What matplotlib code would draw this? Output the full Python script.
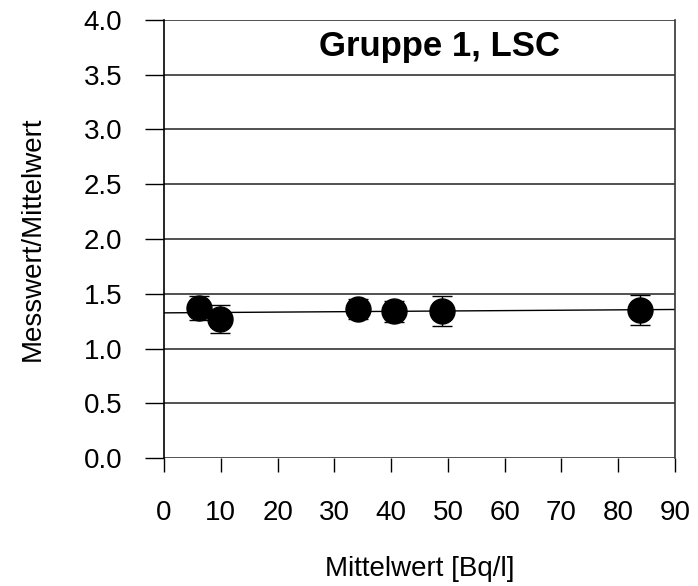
import numpy as np
import matplotlib
matplotlib.use("Agg")
from matplotlib import pyplot as plt

plt.rcParams['font.family'] = ['Liberation Sans', 'DejaVu Sans']

# Messwerte (Mittelwert in Bq/l, Verhaeltnis Messwert/Mittelwert, Unsicherheit)
mittelwert = [6.2, 9.9, 34.1, 40.5, 48.9, 83.8]
verhaeltnis = [1.37, 1.27, 1.36, 1.34, 1.34, 1.35]
fehler = [0.11, 0.13, 0.095, 0.095, 0.135, 0.135]

x_ticks = [0, 10, 20, 30, 40, 50, 60, 70, 80, 90]
y_ticks = [0.0, 0.5, 1.0, 1.5, 2.0, 2.5, 3.0, 3.5, 4.0]

fig = plt.figure(figsize=(6.98, 5.86), dpi=100)
ax = fig.add_axes([0.235, 0.2184, 0.732, 0.7475])

# horizontale Gitterlinien
for y in y_ticks:
    ax.axhline(y, color='#333333', lw=1.2, zorder=1)

# Ausgleichsgerade durch die Punkte
k, d = np.polyfit(mittelwert, verhaeltnis, 1)
xs = np.array([0, 90])
ax.plot(xs, k * xs + d, color='black', lw=1.0, zorder=2)

ax.errorbar(mittelwert, verhaeltnis, yerr=fehler, fmt='o', color='black',
            ms=18, ecolor='black', elinewidth=1.0, capsize=7, capthick=1.0,
            zorder=3)

ax.set_xlim(0, 90)
ax.set_ylim(0, 4)
ax.set_xticks(x_ticks)
ax.set_yticks(y_ticks)
ax.set_yticklabels(["%.1f" % v for v in y_ticks])

for s in ['top', 'bottom']:
    ax.spines[s].set_visible(False)
ax.spines['left'].set_linewidth(1.2)
ax.spines['right'].set_linewidth(1.2)
ax.spines['right'].set_color('#333333')

ax.tick_params(axis='y', direction='out', length=14, width=1.0, pad=16,
               labelsize=20)
ax.tick_params(axis='x', direction='out', length=10, width=1.0, pad=20,
               labelsize=20)

ax.set_xlabel("Mittelwert [Bq/l]", fontsize=20, labelpad=22)
ax.set_ylabel("Messwert/Mittelwert", fontsize=20, labelpad=27)

ax.text(0.54, 0.94, "Gruppe 1, LSC", transform=ax.transAxes, fontsize=25,
        fontweight='bold', ha='center', va='center')

fig.savefig("out.png", dpi=100)
